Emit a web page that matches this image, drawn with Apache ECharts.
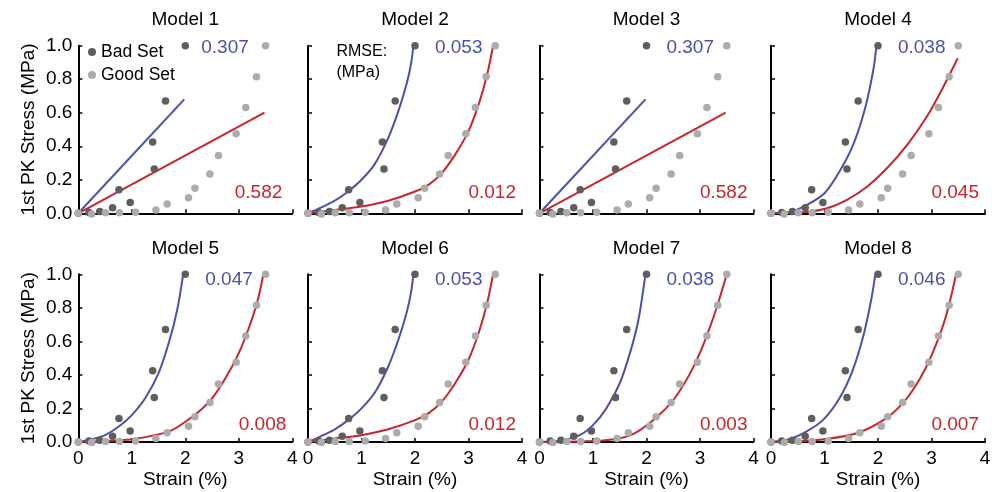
<!DOCTYPE html>
<html>
<head>
<meta charset="utf-8">
<title>Model fits</title>
<script src="https://cdn.jsdelivr.net/npm/echarts@6/dist/echarts.min.js"></script>
<style>
  html, body { margin: 0; padding: 0; background: #fff; }
  #chart { width: 1005px; height: 492px; }
</style>
</head>
<body>
<div id="chart"></div>
<script>
// measured points (same in every panel)
const badX = [0, 0.2, 0.4, 0.64, 0.76, 0.97, 1.39, 1.42, 1.63, 2.0];
const badY = [0, 0.005, 0.01, 0.033, 0.14, 0.065, 0.425, 0.265, 0.67, 1.0];
const goodX = [0, 0.25, 0.51, 0.77, 1.07, 1.45, 1.66, 2.06, 2.18, 2.46, 2.62, 2.95, 3.13, 3.33, 3.5];
const goodY = [0, -0.004, 0.003, 0.003, 0.006, 0.02, 0.055, 0.093, 0.15, 0.235, 0.345, 0.475, 0.632, 0.815, 1.0];

// fitted curves
const linBlue = [[0, 0], [1.98, 0.68]];
const linRed = [[0, 0], [3.48, 0.6]];
const m2Blue = [[0, 0], [0.25, 0.035], [0.5, 0.075], [0.75, 0.13], [1, 0.2], [1.25, 0.295], [1.5, 0.45], [1.7, 0.62], [1.85, 0.78], [1.93, 0.9], [1.97, 1.0]];
const m2Red = [[0, 0], [0.5, 0.02], [1, 0.04], [1.5, 0.075], [2, 0.13], [2.25, 0.17], [2.5, 0.24], [2.75, 0.35], [3, 0.49], [3.2, 0.66], [3.35, 0.83], [3.46, 1.0]];
const m4Blue = [[0, 0], [0.36, 0.008], [0.67, 0.05], [1, 0.12], [1.3, 0.26], [1.55, 0.42], [1.77, 0.64], [1.92, 0.87], [1.97, 1.0]];
const m4Red = [[0, 0], [0.67, 0.008], [1.05, 0.03], [1.42, 0.08], [1.8, 0.16], [2.17, 0.27], [2.55, 0.41], [2.92, 0.58], [3.23, 0.76], [3.49, 0.925]];
const m5Blue = [[0, 0], [0.25, 0.015], [0.5, 0.04], [0.75, 0.09], [1, 0.16], [1.25, 0.26], [1.5, 0.41], [1.7, 0.6], [1.85, 0.79], [1.96, 1.0]];
const m5Red = [[0, 0], [0.5, 0.005], [1, 0.016], [1.5, 0.045], [1.75, 0.07], [2, 0.12], [2.25, 0.18], [2.5, 0.26], [2.75, 0.38], [3, 0.53], [3.2, 0.69], [3.35, 0.84], [3.46, 1.0]];
const m7Blue = [[0, 0], [0.4, 0.008], [0.75, 0.04], [1, 0.1], [1.25, 0.2], [1.5, 0.35], [1.7, 0.54], [1.85, 0.73], [1.98, 1.0]];
const m7Red = [[0, 0], [1, 0.005], [1.5, 0.022], [1.8, 0.055], [2.2, 0.15], [2.5, 0.25], [2.8, 0.4], [3.05, 0.57], [3.3, 0.79], [3.5, 1.0]];
const m8Blue = [[0, 0], [0.34, 0.016], [0.65, 0.06], [0.97, 0.13], [1.28, 0.26], [1.53, 0.43], [1.74, 0.65], [1.88, 0.86], [1.95, 1.0]];
const m8Red = [[0, 0], [0.5, 0.004], [1, 0.016], [1.6, 0.052], [2.1, 0.13], [2.46, 0.23], [2.77, 0.37], [3.02, 0.53], [3.27, 0.75], [3.46, 1.0]];

const blueFits = [linBlue, m2Blue, linBlue, m4Blue, m5Blue, m2Blue, m7Blue, m8Blue];
const redFits = [linRed, m2Red, linRed, m4Red, m5Red, m2Red, m7Red, m8Red];

const modelNames = ['Model 1', 'Model 2', 'Model 3', 'Model 4', 'Model 5', 'Model 6', 'Model 7', 'Model 8'];
const rmseBad = ['0.307', '0.053', '0.307', '0.038', '0.047', '0.053', '0.038', '0.046'];
const rmseGood = ['0.582', '0.012', '0.582', '0.045', '0.008', '0.012', '0.003', '0.007'];
const xTicks = [0, 1, 2, 3, 4];

const BLUE = '#4b50ae';
const RED = '#c6262c';
const DARK = '#5e5e5e';
const LIGHT = '#acacac';
const FONT = 'Liberation Sans, Arial, Helvetica, sans-serif';

const colLeft = [78.3, 308, 539.5, 771];
const rowTop = [45.7, 274.3];
const gridW = 214;
const gridH = 167.6;

const grids = [], xAxes = [], yAxes = [], series = [], graphics = [];
const badPts = badX.map((x, i) => [x, badY[i]]);
const goodPts = goodX.map((x, i) => [x, goodY[i]]);

for (let i = 0; i < 8; i++) {
  const row = i < 4 ? 0 : 1;
  const col = i % 4;
  const left = colLeft[col], top = rowTop[row];
  grids.push({ left: left, top: top, width: gridW, height: gridH });

  xAxes.push({
    gridIndex: i, type: 'value', min: 0, max: 4, interval: 1,
    axisLine: { onZero: false, lineStyle: { color: '#000', width: 2 } },
    axisTick: { inside: true, length: 4, lineStyle: { color: '#000', width: 1.5 } },
    axisLabel: {
      show: row === 1, margin: 7, color: '#000', fontSize: 19, fontFamily: FONT,
      formatter: v => xTicks.indexOf(v) >= 0 ? String(v) : ''
    },
    splitLine: { show: false },
    name: row === 1 ? 'Strain (%)' : '',
    nameLocation: 'middle', nameGap: 28,
    nameTextStyle: { color: '#000', fontSize: 19, fontFamily: FONT }
  });

  yAxes.push({
    gridIndex: i, type: 'value', min: 0, max: 1, interval: 0.2,
    axisLine: { onZero: false, lineStyle: { color: '#000', width: 2 } },
    axisTick: { inside: true, length: 4, lineStyle: { color: '#000', width: 1.5 } },
    axisLabel: {
      show: col === 0, margin: 6, color: '#000', fontSize: 19, fontFamily: FONT,
      formatter: v => v.toFixed(1)
    },
    splitLine: { show: false },
    name: col === 0 ? '1st PK Stress (MPa)' : '',
    nameLocation: 'middle', nameGap: 40,
    nameTextStyle: { color: '#000', fontSize: 19, fontFamily: FONT }
  });

  series.push({
    name: 'Bad fit', type: 'line', xAxisIndex: i, yAxisIndex: i,
    data: blueFits[i], smooth: 0.3, showSymbol: false,
    lineStyle: { color: BLUE, width: 2 }, z: 2, silent: true
  });
  series.push({
    name: 'Good fit', type: 'line', xAxisIndex: i, yAxisIndex: i,
    data: redFits[i], smooth: 0.3, showSymbol: false,
    lineStyle: { color: RED, width: 2 }, z: 2, silent: true
  });
  series.push({
    name: 'Bad Set', type: 'scatter', xAxisIndex: i, yAxisIndex: i,
    data: badPts, symbolSize: 7.5, itemStyle: { color: DARK, opacity: 1 }, z: 3, clip: false
  });
  series.push({
    name: 'Good Set', type: 'scatter', xAxisIndex: i, yAxisIndex: i,
    data: goodPts, symbolSize: 7.5, itemStyle: { color: LIGHT, opacity: 1 }, z: 3, clip: false
  });

  // titles and RMSE values
  const shift = i === 0 ? -4 : 0;
  graphics.push({
    type: 'text', x: left + gridW / 2, y: row === 0 ? 20 : 248.3,
    style: { text: modelNames[i], fill: '#000', fontSize: 19, fontFamily: FONT,
      align: 'center', verticalAlign: 'middle', textAlign: 'center', textVerticalAlign: 'middle' }
  });
  graphics.push({
    type: 'text', x: left + 174.5 + shift, y: top + (row === 0 ? 2 : 5.7),
    style: { text: rmseBad[i], fill: BLUE, fontSize: 19, fontFamily: FONT,
      align: 'right', verticalAlign: 'middle', textAlign: 'right', textVerticalAlign: 'middle' }
  });
  graphics.push({
    type: 'text', x: left + 208 + shift, y: top + (row === 0 ? 147 : 150),
    style: { text: rmseGood[i], fill: RED, fontSize: 19, fontFamily: FONT,
      align: 'right', verticalAlign: 'middle', textAlign: 'right', textVerticalAlign: 'middle' }
  });
}

graphics.push({
  type: 'text', x: colLeft[1] + 28.4, y: 41.7,
  style: { text: 'RMSE:\n(MPa)', fill: '#000', fontSize: 16, lineHeight: 20.3, fontFamily: FONT,
    align: 'left', verticalAlign: 'top', textAlign: 'left', textVerticalAlign: 'top' }
});

const chart = echarts.init(document.getElementById('chart'));
chart.setOption({
  animation: false,
  backgroundColor: '#fff',
  legend: {
    data: ['Bad Set', 'Good Set'],
    orient: 'vertical', left: 88, top: 42, padding: 0,
    icon: 'circle', itemWidth: 8, itemHeight: 8, itemGap: 3,
    textStyle: { color: '#000', fontSize: 17.5, lineHeight: 20, fontFamily: FONT }
  },
  grid: grids,
  xAxis: xAxes,
  yAxis: yAxes,
  series: series,
  graphic: graphics
});
window.addEventListener('resize', () => chart.resize());
</script>
</body>
</html>
